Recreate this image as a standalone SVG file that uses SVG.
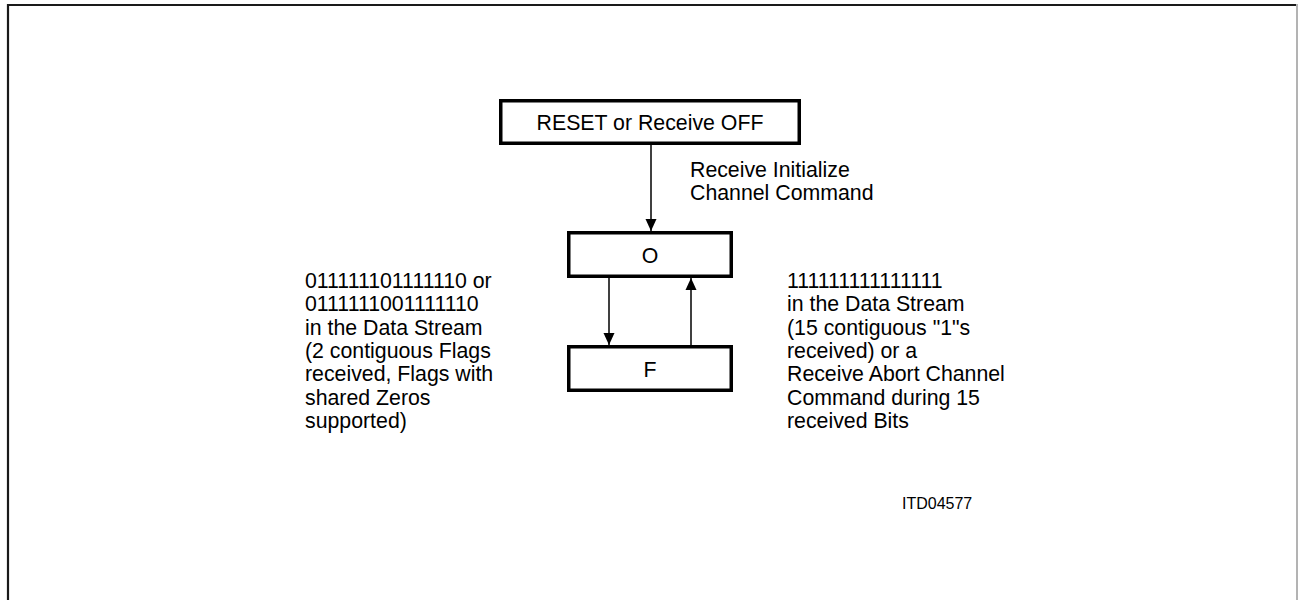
<svg xmlns="http://www.w3.org/2000/svg" width="1298" height="600" viewBox="0 0 1298 600">
<style>
.box{fill:#fff;stroke:#000;stroke-width:3.5}
.t{font-family:"Liberation Sans",Arial,sans-serif;font-size:21.3px;fill:#000}
.c{text-anchor:middle}
.con{stroke:#000;stroke-width:1.5;fill:none}
</style>
<defs>
<marker id="ah" viewBox="0 0 12 12" refX="12" refY="6" markerWidth="12" markerHeight="12" markerUnits="userSpaceOnUse" orient="auto">
<path d="M0,0.5 L12,6 L0,11.5 Z" fill="#000"/>
</marker>
</defs>
<rect width="1298" height="600" fill="#fff"/>
<g id="frame">
<path d="M8,610 V5 H1296" fill="none" stroke="#1a1a1a" stroke-width="2.2"/>
<line x1="1297" y1="4" x2="1297" y2="610" stroke="#9a9a9a" stroke-width="1.5"/>
</g>
<g id="connectors">
<line class="con" x1="651" y1="145" x2="651" y2="231" marker-end="url(#ah)"/>
<line class="con" x1="609" y1="278" x2="609" y2="345" marker-end="url(#ah)"/>
<line class="con" x1="691" y1="345" x2="691" y2="278" marker-end="url(#ah)"/>
</g>
<g id="node-reset">
<rect class="box" x="500.75" y="100.75" width="298.5" height="42.5"/>
<text class="t c" x="650" y="130">RESET or Receive OFF</text>
</g>
<g id="node-o">
<rect class="box" x="568.75" y="232.75" width="162.5" height="43.5"/>
<text class="t c" x="650" y="263">O</text>
</g>
<g id="node-f">
<rect class="box" x="568.75" y="346.75" width="162.5" height="43.5"/>
<text class="t c" x="650" y="377">F</text>
</g>
<g id="label-init">
<text class="t" x="690" y="177">Receive Initialize</text>
<text class="t" x="690" y="200">Channel Command</text>
</g>
<g id="label-left">
<text class="t" x="305" y="288">011111101111110 or</text>
<text class="t" x="305" y="311.3">0111111001111110</text>
<text class="t" x="305" y="334.6">in the Data Stream</text>
<text class="t" x="305" y="357.9">(2 contiguous Flags</text>
<text class="t" x="305" y="381.2">received, Flags with</text>
<text class="t" x="305" y="404.5">shared Zeros</text>
<text class="t" x="305" y="427.8">supported)</text>
</g>
<g id="label-right">
<text class="t" x="787" y="288">111111111111111</text>
<text class="t" x="787" y="311.3">in the Data Stream</text>
<text class="t" x="787" y="334.6">(15 contiguous "1"s</text>
<text class="t" x="787" y="357.9">received) or a</text>
<text class="t" x="787" y="381.2">Receive Abort Channel</text>
<text class="t" x="787" y="404.5">Command during 15</text>
<text class="t" x="787" y="427.8">received Bits</text>
</g>
<text class="t" x="902" y="509" style="font-size:16px">ITD04577</text>
</svg>
